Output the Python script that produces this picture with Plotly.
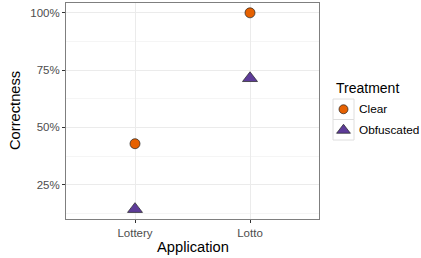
import plotly.graph_objects as go

applications = ["Lottery", "Lotto"]
treatments = ["Clear", "Obfuscated"]
clear_vals = [0.4286, 1.0]
obf_vals = [0.1429, 0.7143]
y_ticks = [0.25, 0.50, 0.75, 1.00]
y_tick_labels = ["25%", "50%", "75%", "100%"]
colors = {"Clear": "#e66101", "Obfuscated": "#5e3c99"}
symbols = {"Clear": "circle", "Obfuscated": "triangle-up"}
sizes = {"Clear": 10, "Obfuscated": 13}

W, H = 421, 258
L, R, T, B = 66, 319, 3, 219
font = "Liberation Sans, Arial, sans-serif"

fig = go.Figure()
for name, vals in [("Clear", clear_vals), ("Obfuscated", obf_vals)]:
    fig.add_trace(go.Scatter(
        x=applications, y=vals, mode="markers", showlegend=False,
        marker=dict(color=colors[name], symbol=symbols[name], size=sizes[name],
                    line=dict(color="#222222", width=0.7)),
        xaxis="x", yaxis="y"))

# manual legend in a second axis, pixel coordinates
box_x0, box_x1 = 333, 354
rows = [(99, 119.5), (119.5, 140)]
for name, (y0, y1) in zip(treatments, rows):
    fig.add_shape(type="rect", xref="x2", yref="y2", x0=box_x0, x1=box_x1, y0=y0, y1=y1,
                  line=dict(color="#dedede", width=1), fillcolor="white", layer="below")
    fig.add_trace(go.Scatter(
        x=[(box_x0 + box_x1) / 2], y=[(y0 + y1) / 2 + (0.5 if name == "Obfuscated" else 0)],
        mode="markers", showlegend=False, hoverinfo="skip",
        marker=dict(color=colors[name], symbol=symbols[name],
                    size=sizes[name] - 1,
                    line=dict(color="#222222", width=0.7)),
        xaxis="x2", yaxis="y2"))
    fig.add_annotation(xref="x2", yref="y2", x=357, y=(y0 + y1) / 2, text=name,
                       showarrow=False, xanchor="left", yanchor="middle",
                       font=dict(family=font, size=11.8, color="black"))
fig.add_annotation(xref="x2", yref="y2", x=334, y=88, text="Treatment",
                   showarrow=False, xanchor="left", yanchor="middle",
                   font=dict(family=font, size=14, color="black"))

# axis titles
fig.add_annotation(xref="paper", yref="paper", x=(L + R) / 2 / W, y=1 - 246.5 / H,
                   text="Application", showarrow=False, xanchor="center", yanchor="middle",
                   font=dict(family=font, size=14.7, color="black"))
fig.add_annotation(xref="paper", yref="paper", x=15 / W, y=1 - (T + B) / 2 / H,
                   text="Correctness", showarrow=False, textangle=-90,
                   xanchor="center", yanchor="middle",
                   font=dict(family=font, size=14.7, color="black"))

fig.update_layout(
    width=W, height=H, margin=dict(l=0, r=0, t=0, b=0, autoexpand=False),
    paper_bgcolor="white", plot_bgcolor="white",
    font=dict(family=font),
    xaxis=dict(domain=[L / W, R / W], type="category", range=[-0.6, 1.6],
               showgrid=True, gridcolor="#ebebeb", gridwidth=1,
               ticks="outside", ticklen=3, tickcolor="#333333",
               tickfont=dict(family=font, size=11.5, color="#4d4d4d"),
               showline=True, linecolor="#7f7f7f", mirror=True, zeroline=False,
               anchor="y", fixedrange=True),
    yaxis=dict(domain=[1 - B / H, 1 - T / H], range=[0.1, 1.0429],
               tickvals=y_ticks, ticktext=y_tick_labels,
               showgrid=True, gridcolor="#ebebeb", gridwidth=1,
               minor=dict(tick0=0.125, dtick=0.25, showgrid=True, gridcolor="#f5f5f5", gridwidth=0.6),
               ticks="outside", ticklen=3, tickcolor="#333333",
               tickfont=dict(family=font, size=11.5, color="#4d4d4d"),
               showline=True, linecolor="#7f7f7f", mirror=True, zeroline=False,
               anchor="x", fixedrange=True),
    xaxis2=dict(domain=[R / W, 1], range=[R, W], visible=False, anchor="y2", fixedrange=True),
    yaxis2=dict(domain=[0, 1], range=[H, 0], visible=False, anchor="x2", fixedrange=True),
)

fig.write_html("out.html", config={"displayModeBar": False},
               post_script="document.body.style.margin='0';document.body.style.padding='0';")
